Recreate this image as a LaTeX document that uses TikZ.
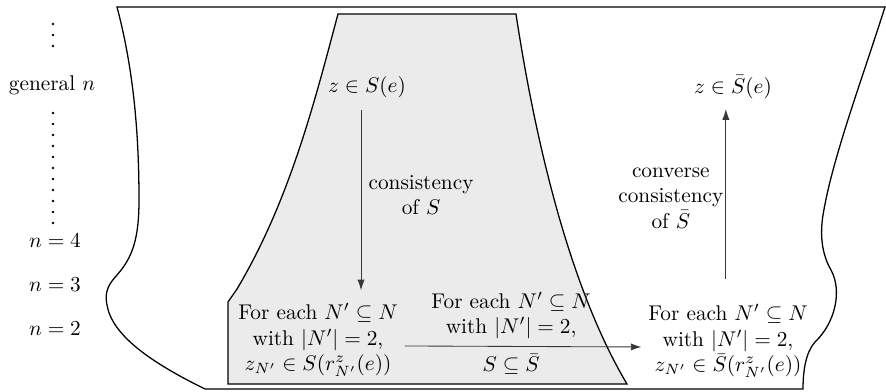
\documentclass[tikz,border=0pt]{standalone}
\usepackage{amsmath,amssymb}
\usepackage{tikz}
\usetikzlibrary{arrows.meta,positioning}
\definecolor{PanelGray}{RGB}{235,235,235}
\definecolor{ArrowGray}{RGB}{55,55,55}
\newcommand{\rowdot}[2]{%
  \fill (#1,#2) circle (0.6pt);}
\tikzset{
  flow/.style={-{Latex[length=5pt,width=3.4pt]},draw=ArrowGray},
  stmt/.style={align=center,inner sep=3pt},
}

\begin{document}
\begin{tikzpicture}[x=0.4695pt,y=-0.4695pt]
  \useasboundingbox (0,0) rectangle (886,391);
  % outer region
  \draw[semithick] (117,7) -- (885,7)
    .. controls (860,85) and (832,160) .. (823,215)
    .. controls (819,240) and (824,258) .. (831,270)
    .. controls (842,290) and (836,322) .. (815,342)
    .. controls (806,352) and (803,370) .. (803,389)
    -- (205,389)
    .. controls (150,362) and (112,335) .. (107,305)
    .. controls (104,290) and (110,283) .. (117,275)
    .. controls (132,258) and (139,240) .. (139,200)
    .. controls (139,120) and (131,60) .. (117,7) -- cycle;
  % shaded region
  \filldraw[semithick,fill=PanelGray] (338,14) -- (516,14)
    .. controls (532,120) and (565,280) .. (627,384)
    -- (228,384) -- (228,302) -- (237,289)
    .. controls (290,200) and (315,100) .. (338,14) -- cycle;
  % row labels
  \foreach \y in {24,35,46} {\rowdot{53}{\y}}
  \node (gen) at (52,85) {general $n$};
  \foreach \y in {113,124,...,223} {\rowdot{53}{\y}}
  \node (n4) at (55,241) {$n=4$};
  \node (n3) at (55,285) {$n=3$};
  \node (n2) at (55,329) {$n=2$};
  % statements
  \node (zS) at (367,87) {$z\in S(e)$};
  \node (zSbar) at (733,87) {$z\in\bar{S}(e)$};
  \node[stmt] (botS) at (318,340) {For each $N'\subseteq N$\\ with $|N'|=2$,\\ $z_{N'}\in S(r^z_{N'}(e))$};
  \node[stmt] (botSbar) at (728,341) {For each $N'\subseteq N$\\ with $|N'|=2$,\\ $z_{N'}\in\bar{S}(r^z_{N'}(e))$};
  % implications
  \coordinate (sTop) at ([xshift=-2.8pt]zS.south);
  \draw[flow,shorten <=2.3pt,shorten >=3pt] (sTop) -- (sTop |- botS.north)
    node[pos=0.47,right,align=center] {consistency\\ of $S$};
  \draw[flow] ([yshift=-2.8pt]botS.east) -- ([yshift=-2.8pt]botSbar.west)
    node[pos=0.45,above,align=center] {For each $N'\subseteq N$\\ with $|N'|=2$,}
    node[pos=0.45,below] {$S\subseteq\bar{S}$};
  \coordinate (sbBot) at ([xshift=-1pt]botSbar.north);
  \draw[flow,shorten <=9pt,shorten >=1.5pt] (sbBot) -- (sbBot |- zSbar.south)
    node[pos=0.52,left,align=center,inner sep=1pt] {converse\\ consistency\\ of $\bar{S}$};
\end{tikzpicture}
\end{document}
